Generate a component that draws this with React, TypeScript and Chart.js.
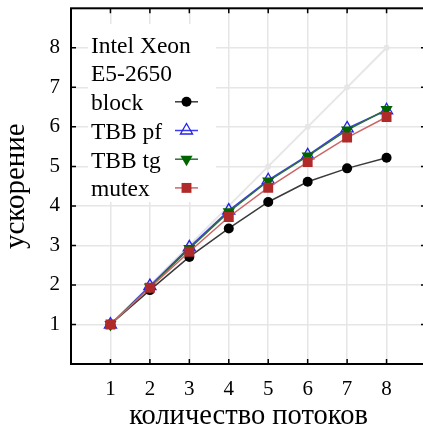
import React, { useEffect, useRef } from "react";
import { Chart, registerables } from "chart.js";
import { drawPoint } from "chart.js/helpers";

Chart.register(...registerables);

const threads = [1, 2, 3, 4, 5, 6, 7, 8];
const ideal = [1, 2, 3, 4, 5, 6, 7, 8];
const block = [1, 1.87, 2.71, 3.43, 4.1, 4.61, 4.95, 5.22];
const tbbPf = [1, 1.97, 2.95, 3.88, 4.65, 5.28, 5.96, 6.42];
const tbbTg = [1, 1.95, 2.92, 3.85, 4.63, 5.26, 5.92, 6.44];
const mutex = [1, 1.93, 2.84, 3.72, 4.46, 5.11, 5.73, 6.25];
const legendTitle = ["Intel Xeon", "E5-2650"];
const legendLabels = ["block", "TBB pf", "TBB tg", "mutex"];
const xTitle = "количество потоков";
const yTitle = "ускорение";

const FONT = "'Liberation Serif', 'Times New Roman', serif";

const pts = (ys: number[]) => threads.map((x, i) => ({ x, y: ys[i] }));

const frameLegendPlugin = {
  id: "frameLegend",
  beforeDatasetsDraw(chart: any) {
    const ctx = chart.ctx;
    ctx.save();
    ctx.fillStyle = "#ffffff";
    ctx.fillRect(88, 24, 128, 178);
    ctx.restore();
  },
  afterDraw(chart: any) {
    const ctx = chart.ctx;
    const { left, right, top, bottom } = chart.chartArea;
    const xs = chart.scales.x;
    const ys = chart.scales.y;
    ctx.save();
    ctx.strokeStyle = "#000";
    ctx.lineWidth = 1.5;
    for (let v = 1; v <= 8; v++) {
      const px = xs.getPixelForValue(v);
      ctx.beginPath();
      ctx.moveTo(px, bottom);
      ctx.lineTo(px, bottom - 5);
      ctx.moveTo(px, top);
      ctx.lineTo(px, top + 5);
      ctx.stroke();
      const py = ys.getPixelForValue(v);
      ctx.beginPath();
      ctx.moveTo(left, py);
      ctx.lineTo(left + 5, py);
      ctx.moveTo(right, py);
      ctx.lineTo(right - 5, py);
      ctx.stroke();
    }
    ctx.lineWidth = 2;
    ctx.strokeRect(left, top, right - left, bottom - top);

    ctx.font = `23.5px ${FONT}`;
    ctx.fillStyle = "#000";
    ctx.textBaseline = "alphabetic";
    ctx.textAlign = "left";
    const x0 = 91;
    const b0 = 52.7;
    const step = 28.7;
    legendTitle.forEach((t, i) => ctx.fillText(t, x0, b0 + i * step));
    legendLabels.forEach((lab, i) => {
      const ds = chart.data.datasets.find((d: any) => d.label === lab);
      const base = b0 + (i + 2) * step;
      ctx.fillStyle = "#000";
      ctx.fillText(lab, x0, base);
      const cy = base - 8.3;
      ctx.strokeStyle = ds.borderColor;
      ctx.lineWidth = ds.borderWidth;
      ctx.beginPath();
      ctx.moveTo(175, cy);
      ctx.lineTo(198, cy);
      ctx.stroke();
      ctx.fillStyle = ds.pointBackgroundColor;
      ctx.strokeStyle = ds.pointBorderColor;
      ctx.lineWidth = ds.pointBorderWidth;
      drawPoint(
        ctx,
        {
          pointStyle: ds.pointStyle,
          rotation: ds.pointRotation || 0,
          radius: ds.pointRadius,
          borderWidth: ds.pointBorderWidth,
        } as any,
        186.5,
        cy
      );
    });
    ctx.restore();
  },
};

const zeroPad = (s: any) => {
  s.paddingTop = 0;
  s.paddingBottom = 0;
  s.paddingLeft = 0;
  s.paddingRight = 0;
};

export default function App() {
  const ref = useRef<HTMLCanvasElement>(null);
  useEffect(() => {
    if (!ref.current) return;
    const chart = new Chart(ref.current, {
      type: "line",
      data: {
        datasets: [
          {
            label: "ideal",
            data: pts(ideal),
            borderColor: "#e6e6e6",
            borderWidth: 2,
            pointStyle: "circle",
            pointRadius: 3,
            pointBackgroundColor: "#e6e6e6",
            pointBorderColor: "#e6e6e6",
            pointBorderWidth: 0,
            order: 5,
          },
          {
            label: "block",
            data: pts(block),
            borderColor: "#3a3a3a",
            borderWidth: 1.5,
            pointStyle: "circle",
            pointRadius: 5,
            pointBackgroundColor: "#000000",
            pointBorderColor: "#000000",
            pointBorderWidth: 0,
            order: 4,
          },
          {
            label: "TBB pf",
            data: pts(tbbPf),
            borderColor: "#3b3bef",
            borderWidth: 1.5,
            pointStyle: "triangle",
            pointRadius: 7,
            pointBackgroundColor: "rgba(255,255,255,0)",
            pointBorderColor: "#2222ee",
            pointBorderWidth: 1.3,
            order: 3,
          },
          {
            label: "TBB tg",
            data: pts(tbbTg),
            borderColor: "#2e6e3a",
            borderWidth: 1.5,
            pointStyle: "triangle",
            pointRotation: 180,
            pointRadius: 7,
            pointBackgroundColor: "#006400",
            pointBorderColor: "#006400",
            pointBorderWidth: 0,
            order: 2,
          },
          {
            label: "mutex",
            data: pts(mutex),
            borderColor: "#cc6666",
            borderWidth: 1.5,
            pointStyle: "rect",
            pointRadius: 7,
            pointBackgroundColor: "#b02a2a",
            pointBorderColor: "#b02a2a",
            pointBorderWidth: 0,
            order: 1,
          },
        ] as any,
      },
      options: {
        animation: false,
        responsive: false,
        devicePixelRatio: 1,
        layout: { padding: { left: 0, top: 8, right: 14, bottom: 0 } },
        plugins: { legend: { display: false }, tooltip: { enabled: false } },
        elements: { line: { tension: 0 } },
        scales: {
          x: {
            type: "linear",
            min: 0,
            max: 9,
            afterFit: (s: any) => {
              s.height = 66;
              zeroPad(s);
            },
            border: { display: false },
            grid: {
              drawTicks: false,
              lineWidth: 1.5,
              color: (c: any) =>
                c.tick && c.tick.value >= 1 && c.tick.value <= 8 ? "#e6e6e6" : "rgba(0,0,0,0)",
            },
            ticks: {
              stepSize: 1,
              autoSkip: false,
              maxRotation: 0,
              padding: 13,
              color: "#000",
              font: { family: FONT, size: 21 },
              callback: (v: any) => (v >= 1 && v <= 8 ? String(v) : ""),
            },
            title: {
              display: true,
              text: xTitle,
              color: "#000",
              font: { family: FONT, size: 28.5, lineHeight: 1 },
              padding: { top: 0, bottom: -1 },
            },
          },
          y: {
            type: "linear",
            min: 0,
            max: 9,
            afterFit: (s: any) => {
              s.width = 71;
              zeroPad(s);
            },
            border: { display: false },
            grid: {
              drawTicks: false,
              lineWidth: 1.5,
              color: (c: any) =>
                c.tick && c.tick.value >= 1 && c.tick.value <= 8 ? "#e6e6e6" : "rgba(0,0,0,0)",
            },
            ticks: {
              stepSize: 1,
              autoSkip: false,
              padding: 11,
              color: "#000",
              font: { family: FONT, size: 21 },
              callback: (v: any) => (v >= 1 && v <= 8 ? String(v) : ""),
            },
            title: {
              display: true,
              text: yTitle,
              color: "#000",
              font: { family: FONT, size: 29, lineHeight: 1 },
              padding: { top: 2, bottom: 0 },
            },
          },
        },
      } as any,
      plugins: [frameLegendPlugin],
    });
    return () => chart.destroy();
  }, []);
  return (
    <div
      style={{
        position: "absolute",
        left: 0,
        top: 0,
        width: 423,
        height: 430,
        overflow: "hidden",
        background: "#fff",
      }}
    >
      <canvas ref={ref} width={440} height={430} style={{ display: "block" }} />
    </div>
  );
}
